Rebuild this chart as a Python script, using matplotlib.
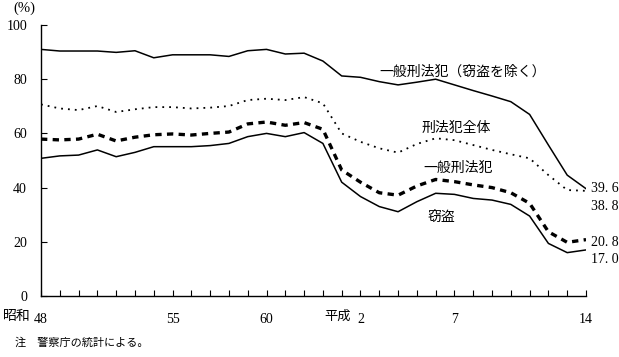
import matplotlib
matplotlib.use("Agg")
import matplotlib.pyplot as plt
import numpy as np

plt.rcParams['font.family'] = ['Liberation Serif', 'Noto Sans CJK JP']

# 年次 (昭和48年 = 1973 ... 平成14年 = 2002)
years = np.arange(1973, 2003)
tick_years = [1973, 1980, 1985, 1990, 1995, 2002]
tick_labels = ['48', '55', '60', '2', '7', '14']

# 検挙率 (%)
excl_theft = [91.0, 90.4, 90.4, 90.4, 89.9, 90.5, 87.9, 89.0, 89.0, 89.0,
              88.4, 90.5, 91.0, 89.3, 89.6, 86.7, 81.2, 80.7, 79.1, 77.9,
              78.9, 80.0, 77.9, 75.8, 73.8, 71.7, 67.0, 55.7, 44.6, 39.6]
total = [70.7, 69.2, 68.6, 70.1, 67.9, 68.9, 69.7, 69.7, 69.2, 69.5,
         70.1, 72.3, 72.8, 72.3, 73.4, 71.1, 60.0, 56.9, 54.5, 52.9,
         56.1, 58.2, 57.5, 55.7, 53.9, 52.3, 50.8, 44.6, 39.1, 38.8]
general = [57.9, 57.6, 57.9, 59.7, 57.2, 58.6, 59.5, 59.8, 59.4, 60.0,
           60.5, 63.5, 64.2, 63.0, 64.0, 61.5, 46.5, 42.0, 38.1, 37.2,
           40.6, 43.0, 42.2, 41.0, 40.0, 38.1, 34.2, 23.7, 19.8, 20.8]
theft = [50.8, 51.7, 52.0, 53.9, 51.4, 53.0, 55.1, 55.1, 55.1, 55.5,
         56.3, 58.8, 60.0, 58.8, 60.3, 56.3, 42.0, 36.7, 33.0, 31.1,
         34.8, 37.9, 37.5, 36.0, 35.4, 33.8, 29.5, 19.4, 16.0, 17.0]

fig = plt.figure(figsize=(6.19, 3.57), dpi=100)
ax = fig.add_axes([41/619, 61/357, 545/619, 271/357])

ax.plot(years, excl_theft, color='black', lw=1.1)
ax.plot(years, total, color='black', lw=1.3, linestyle=(0, (1, 2.8)))
ax.plot(years, general, color='black', lw=2.4, linestyle=(0, (1.9, 1.6)))
ax.plot(years, theft, color='black', lw=1.1)

ax.set_xlim(1973, 2002)
ax.set_ylim(0, 100)
ax.set_yticks(range(0, 101, 20))
ax.set_xticks(tick_years)
ax.set_xticklabels(tick_labels)
ax.set_xticks(years, minor=True)

for s in ['top', 'right']:
    ax.spines[s].set_visible(False)
for s in ['left', 'bottom']:
    ax.spines[s].set_linewidth(1.0)

ax.tick_params(axis='both', which='both', direction='in', length=4, width=0.8, labelsize=10)
ax.tick_params(axis='x', which='major', pad=12)
ax.tick_params(axis='y', pad=10)

# 元号
ax.text(1972.45, -7.5, '昭和', ha='right', va='center', fontsize=10, clip_on=False)
ax.text(1989.5, -7.5, '平成', ha='right', va='center', fontsize=9.5, clip_on=False)

# 系列名
ax.text(1991.0, 82.7, '一般刑法犯（窃盗を除く）', ha='left', va='center', fontsize=10)
ax.text(1995.1, 62.0, '刑法犯全体', ha='center', va='center', fontsize=10)
ax.text(1995.2, 47.2, '一般刑法犯', ha='center', va='center', fontsize=10)
ax.text(1994.3, 28.8, '窃盗', ha='center', va='center', fontsize=10)

# 最終年の値
for v, ypos in zip(['39. 6', '38. 8', '20. 8', '17. 0'], [39.5, 33.2, 19.6, 13.3]):
    ax.text(2002.25, ypos, v, ha='left', va='center', fontsize=10, clip_on=False)

fig.text(13/619, 1 - 8/357, '(%)', ha='left', va='center', fontsize=10.5)
fig.text(15/619, 1 - 343/357, '注　警察庁の統計による。', ha='left', va='center', fontsize=8)

fig.savefig('out.png', dpi=100)
